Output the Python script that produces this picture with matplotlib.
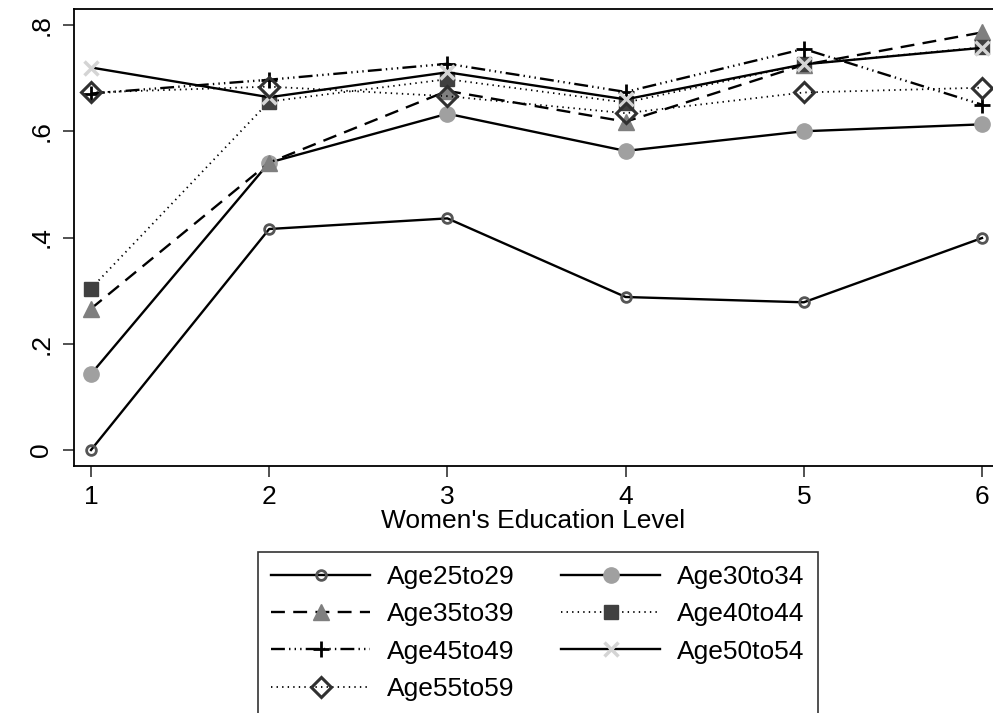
import matplotlib
matplotlib.use('Agg')
import matplotlib.pyplot as plt

plt.rcParams['font.family'] = ['Liberation Sans', 'DejaVu Sans']
plt.rcParams['lines.scale_dashes'] = False

edu = [1, 2, 3, 4, 5, 6]

age25to29 = [0.000, 0.416, 0.436, 0.288, 0.278, 0.399]
age30to34 = [0.143, 0.541, 0.633, 0.563, 0.600, 0.613]
age35to39 = [0.266, 0.541, 0.676, 0.618, 0.725, 0.786]
age40to44 = [0.304, 0.656, 0.698, 0.654, 0.726, 0.758]
age45to49 = [0.671, 0.697, 0.727, 0.674, 0.755, 0.650]
age50to54 = [0.720, 0.664, 0.711, 0.660, 0.726, 0.757]
age55to59 = [0.673, 0.684, 0.666, 0.634, 0.673, 0.682]

fig = plt.figure(figsize=(9.93, 7.13), dpi=100)
ax = fig.add_axes([74/993, 1 - 466/713, 919/993, 457/713])

lw = 1.7
l1, = ax.plot(edu, age25to29, color='black', lw=lw, marker='o', ms=7,
              mfc='none', mec='#555555', mew=2, label='Age25to29')
l2, = ax.plot(edu, age30to34, color='black', lw=lw, marker='o', ms=11,
              mfc='#a0a0a0', mec='#a0a0a0', label='Age30to34')
l3, = ax.plot(edu, age35to39, color='black', lw=lw, ls=(0, (10, 6)), marker='^', ms=12,
              mfc='#7f7f7f', mec='#7f7f7f', label='Age35to39')
l4, = ax.plot(edu, age40to44, color='black', lw=1.3, ls=(0, (1, 3)), marker='s', ms=10,
              mfc='#404040', mec='#404040', label='Age40to44')
l5, = ax.plot(edu, age45to49, color='black', lw=lw, ls=(0, (10, 3, 1, 3, 1, 3, 1, 3)),
              marker='+', ms=12, mec='black', mew=2, label='Age45to49')
l6, = ax.plot(edu, age50to54, color='black', lw=lw, marker='x', ms=10,
              mec='#d4d4d4', mew=2.5, label='Age50to54')
l7, = ax.plot(edu, age55to59, color='black', lw=1.3, ls=(0, (1, 3)), marker='D', ms=10,
              mfc='none', mec='#303030', mew=2.2, label='Age55to59')

ax.set_xlim(1 - 17/178.2, 6 + 11/178.2)
ax.set_ylim(-16/531.25, 0.8 + 16/531.25)
ax.set_xticks(edu)
ax.set_xticklabels(['1', '2', '3', '4', '5', '6'])
ax.set_yticks([0, 0.2, 0.4, 0.6, 0.8])
ax.set_yticklabels(['0', '.2', '.4', '.6', '.8'], rotation=90, va='center')
ax.tick_params(labelsize=19, length=8, width=1.2, color='#333333')
ax.tick_params(axis='y', pad=7)
ax.tick_params(axis='x', pad=6)
ax.spines['right'].set_visible(False)
for s in ['left', 'bottom', 'top']:
    ax.spines[s].set_linewidth(1.3)
ax.set_xlabel("Women's Education Level", fontsize=19, labelpad=0)

# row-wise legend order: fill column 1 then column 2
handles = [l1, l3, l5, l7, l2, l4, l6]
leg = fig.legend(handles=handles, labels=[h.get_label() for h in handles],
                 loc='upper left', bbox_to_anchor=(258/993, 1 - 552/713), ncol=2,
                 fontsize=19, frameon=True, fancybox=False, edgecolor='black',
                 handlelength=3.75, handletextpad=0.65, columnspacing=1.75,
                 labelspacing=0.5, borderpad=0.5, borderaxespad=0)
leg.get_frame().set_linewidth(1.2)

fig.savefig('out.png', dpi=100)
